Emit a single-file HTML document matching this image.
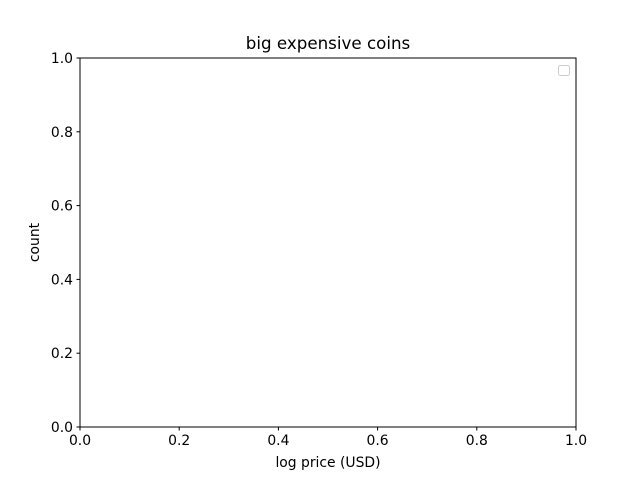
<!DOCTYPE html>
<html><head><meta charset="utf-8"><style>
body{margin:0;background:#fff;}
svg{display:block;font-family:"DejaVu Sans","Liberation Sans",sans-serif;}
</style></head><body>
<svg id="chart" width="640" height="480">
<rect width="640" height="480" fill="#fff"/>
<text x="328" y="49" text-anchor="middle" font-size="16.7">big expensive coins</text>
<text x="328" y="467" text-anchor="middle" font-size="13.9">log price (USD)</text>
<text x="39" y="242.5" text-anchor="middle" font-size="13.9" transform="rotate(-90 39 242.5)">count</text>
<g id="xticks"></g>
<g id="yticks"></g>
<rect x="80" y="58" width="496" height="369" fill="none" stroke="#000" stroke-width="1"/>
<rect x="558.5" y="65.5" width="11" height="10" rx="2" fill="#fff" stroke="#ccc" stroke-width="1"/>
</svg>
<script>
const xTickValues=[0,0.2,0.4,0.6,0.8,1.0];
const yTickValues=[0,0.2,0.4,0.6,0.8,1.0];
const xDomain=[0,1], yDomain=[0,1];
const L=80,R=576,T=58,B=427;
const xs=v=>L+(v-xDomain[0])/(xDomain[1]-xDomain[0])*(R-L);
const ys=v=>B-(v-yDomain[0])/(yDomain[1]-yDomain[0])*(B-T);
const NS="http://www.w3.org/2000/svg";
const gx=document.getElementById('xticks'), gy=document.getElementById('yticks');
xTickValues.forEach(v=>{
  const x=xs(v);
  const l=document.createElementNS(NS,'line');
  l.setAttribute('x1',x);l.setAttribute('x2',x);l.setAttribute('y1',B);l.setAttribute('y2',B+3.5);l.setAttribute('stroke','#000');
  
  
  gx.appendChild(l);
  const t=document.createElementNS(NS,'text');
  t.setAttribute('x',x);t.setAttribute('y',B+18);t.setAttribute('text-anchor','middle');t.setAttribute('font-size','13.9');
  t.textContent=v.toFixed(1);
  
  
  gx.appendChild(t);
});
yTickValues.forEach(v=>{
  const y=ys(v);
  const l=document.createElementNS(NS,'line');
  l.setAttribute('x1',L-3.5);l.setAttribute('x2',L);l.setAttribute('y1',y);l.setAttribute('y2',y);l.setAttribute('stroke','#000');
  
  
  gy.appendChild(l);
  const t=document.createElementNS(NS,'text');
  t.setAttribute('x',L-7);t.setAttribute('y',y+5);t.setAttribute('text-anchor','end');t.setAttribute('font-size','13.9');
  t.textContent=v.toFixed(1);
  
  
  gy.appendChild(t);
});
</script>
</body></html>
